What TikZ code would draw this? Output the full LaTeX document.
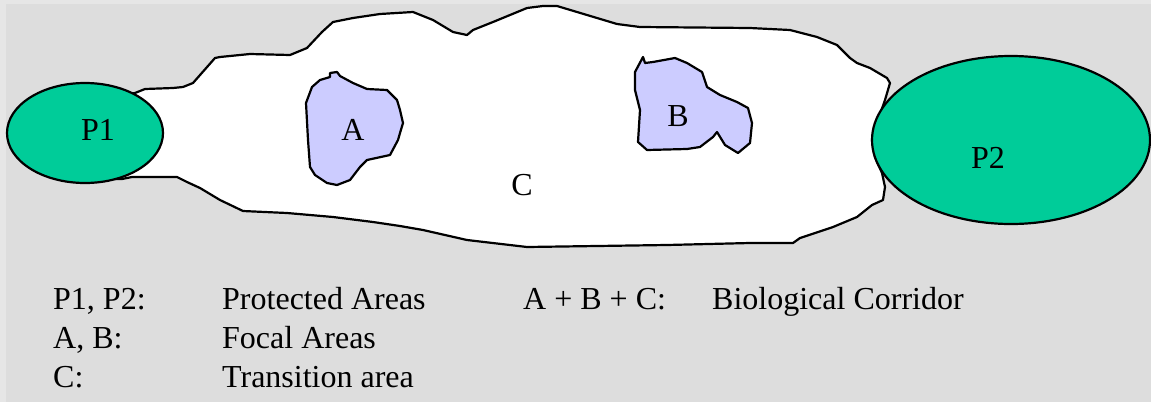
\documentclass[tikz,border=0pt]{standalone}
\usepackage{fontspec}
\setmainfont{Liberation Serif}
\definecolor{bgframe}{HTML}{E6E6E6}
\definecolor{bggray}{HTML}{DDDDDD}
\definecolor{parkgreen}{HTML}{00CC99}
\definecolor{focalblue}{HTML}{CCCCFF}
\tikzset{
    outline/.style={draw=black, line width=2.2pt, line join=round},
    txt/.style={font=\fontsize{32}{38}\selectfont, inner sep=0pt},
    legend/.style={txt, anchor=base west}
}
\begin{document}
\begin{tikzpicture}[x=1pt, y=-1pt]
    % background with its light frame
    \useasboundingbox (0, 0) rectangle (1151, 402);
    \fill[bgframe] (0, 0) rectangle (1151, 402);
    \fill[bggray] (6, 4) rectangle (1151, 402);

    % corridor C
    \draw[outline, fill=white] (135,93) -- (145,89) -- (173,88) -- (183,87) -- (193,83)
        -- (215,58) -- (220,57) -- (250,54) -- (290,55) -- (307,48) -- (322,32)
        -- (333,22) -- (353,18) -- (380,14) -- (413,12) -- (433,20) -- (453,32)
        -- (467,35) -- (473,30) -- (493,22) -- (510,15) -- (527,8) -- (543,6)
        -- (557,6) -- (587,15) -- (617,24) -- (640,27) -- (750,28) -- (790,30)
        -- (817,37) -- (837,45) -- (850,58) -- (857,63) -- (870,68) -- (887,78)
        -- (890,83) -- (885,100) -- (878,120) -- (872,140) -- (875,157) -- (882,173)
        -- (885,187) -- (883,200) -- (872,205) -- (857,217) -- (833,227) -- (800,238)
        -- (793,243) -- (750,243) -- (667,245) -- (527,247) -- (467,240) -- (423,230)
        -- (400,226) -- (373,222) -- (333,217) -- (287,213) -- (243,211) -- (220,200)
        -- (200,188) -- (187,182) -- (177,177) -- (132,177) -- (122,179) -- (112,179)
        -- (100,170) -- (100,100) -- cycle;

    % focal area A
    \draw[outline, fill=focalblue] (330,73) -- (337,72) -- (340,76) -- (353,83)
        -- (367,89) -- (387,90) -- (397,100) -- (400,110) -- (403,123) -- (400,133)
        -- (398,140) -- (390,155) -- (367,160) -- (360,167) -- (350,180) -- (337,185)
        -- (327,183) -- (315,175) -- (310,167) -- (308,140) -- (306,103) -- (312,87)
        -- (320,80) -- (330,77) -- cycle;

    % focal area B
    \draw[outline, fill=focalblue] (643,57) -- (645,63) -- (653,62) -- (675,58)
        -- (687,63) -- (702,72) -- (707,87) -- (720,95) -- (737,102) -- (748,108)
        -- (752,123) -- (750,143) -- (738,153) -- (725,145) -- (717,132) -- (713,137)
        -- (700,147) -- (687,149) -- (647,150) -- (638,142) -- (640,110) -- (635,90)
        -- (635,72) -- cycle;

    % protected areas
    \draw[outline, fill=parkgreen] (85, 133) ellipse [x radius=78, y radius=50];
    \draw[outline, fill=parkgreen] (1011, 140) ellipse [x radius=139, y radius=84];

    \node[txt, anchor=base] (p1) at (98, 140) {P1};
    \node[txt, anchor=base] (p2) at (988, 168) {P2};
    \node[txt, anchor=base] (a) at (353, 140) {A};
    \node[txt, anchor=base] (b) at (678, 126) {B};
    \node[txt, anchor=base] (c) at (522, 195) {C};

    % legend
    \node[legend] (key1) at (53, 309) {P1, P2:};
    \node[legend] (val1) at (222, 309) {Protected Areas};
    \node[legend] (key2) at (53, 348) {A, B:};
    \node[legend] (val2) at (222, 348) {Focal Areas};
    \node[legend] (key3) at (53, 387) {C:};
    \node[legend] (val3) at (222, 387) {Transition area};
    \node[legend] (key4) at (523, 309) {A + B + C:};
    \node[legend] (val4) at (712, 309) {Biological Corridor};
\end{tikzpicture}
\end{document}
